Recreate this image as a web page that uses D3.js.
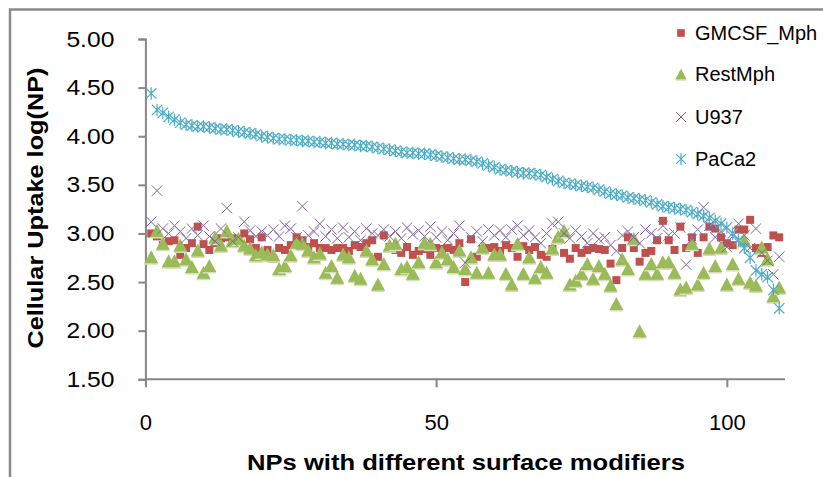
<!DOCTYPE html>
<html><head><meta charset="utf-8">
<script src="https://cdn.jsdelivr.net/npm/d3@7/dist/d3.min.js"></script>
<style>
html,body{margin:0;padding:0;background:#fff;}
svg{display:block;font-family:"Liberation Sans",Arial,sans-serif;}
</style></head>
<body><svg id="c" width="823" height="477"></svg>
<script>
const seriesNames = ["GMCSF_Mph","RestMph","U937","PaCa2"];
const yTicks = [1.5,2.0,2.5,3.0,3.5,4.0,4.5,5.0];
const xTicks = [0,50,100];

const gmcsf = [3.00,2.97,2.88,2.92,2.93,2.78,2.85,2.90,3.07,2.89,2.83,2.90,2.95,2.96,2.95,2.92,3.00,2.94,2.85,2.96,
2.83,2.74,2.85,2.83,2.88,2.96,2.93,2.86,2.90,2.85,2.85,2.83,2.85,2.85,2.82,2.88,2.86,2.90,2.93,2.76,
2.98,2.86,2.83,2.80,2.86,2.78,2.82,2.84,2.78,2.85,2.84,2.85,2.83,2.90,2.50,2.94,2.76,2.84,2.85,2.86,
2.82,2.88,2.85,2.76,2.87,2.83,2.86,2.78,2.76,2.84,2.93,2.80,2.74,2.85,2.80,2.83,2.85,2.84,2.83,2.69,
2.52,2.85,2.96,2.85,2.71,2.80,2.82,2.93,3.13,2.93,2.83,3.07,2.85,2.96,2.80,2.96,3.07,3.05,2.96,2.90,
2.88,3.04,3.04,3.14,2.85,2.80,2.86,2.98,2.96];

const restMph = [2.76,3.03,2.90,2.72,2.72,2.88,2.74,2.66,2.83,2.60,2.67,2.96,2.88,3.03,2.93,2.95,2.88,2.85,2.78,2.81,
2.79,2.78,2.64,2.67,2.78,2.91,2.90,2.83,2.76,2.80,2.60,2.67,2.55,2.79,2.76,2.57,2.54,2.83,2.74,2.48,
2.69,2.88,2.90,2.64,2.66,2.59,2.71,2.91,2.90,2.71,2.81,2.74,2.66,2.83,2.64,2.76,2.60,2.86,2.60,2.79,
2.79,2.59,2.48,2.90,2.59,2.76,2.55,2.66,2.60,2.85,2.97,3.03,2.48,2.52,2.59,2.69,2.54,2.67,2.59,2.47,
2.28,2.74,2.64,2.95,2.00,2.59,2.69,2.59,2.71,2.71,2.60,2.43,2.45,2.90,2.48,2.60,2.85,2.67,2.86,2.48,
2.69,2.54,2.93,2.50,2.47,2.86,2.74,2.36,2.45];

const u937 = [3.12,3.44,3.05,3.00,3.08,3.02,2.95,3.05,2.98,3.08,2.97,2.92,3.05,3.26,2.92,2.96,3.12,3.03,2.97,3.02,
2.98,3.04,2.97,3.08,3.05,2.96,3.28,2.98,3.02,3.10,2.97,3.04,2.95,3.06,2.96,3.02,2.93,3.05,3.00,2.98,
3.04,2.97,3.02,2.95,3.06,2.99,3.03,2.97,3.07,2.96,3.02,2.93,3.00,3.08,2.70,2.96,3.02,2.92,3.04,2.98,
3.03,2.96,3.04,3.08,2.98,3.03,2.96,2.90,3.00,3.10,3.12,3.00,2.95,3.03,2.97,2.90,3.00,2.94,2.96,2.88,
2.82,2.98,3.02,2.96,2.90,3.04,3.00,2.95,3.08,2.98,3.00,3.06,2.68,2.94,3.04,3.27,3.08,2.96,3.02,2.86,
2.97,3.10,2.98,2.85,3.05,2.80,2.72,2.58,2.76];

const paca2 = [4.44,4.27,4.24,4.20,4.17,4.14,4.12,4.11,4.10,4.10,4.09,4.08,4.07,4.07,4.06,4.05,4.04,4.03,4.02,4.00,
3.99,3.98,3.97,3.97,3.96,3.96,3.95,3.95,3.94,3.94,3.93,3.93,3.92,3.92,3.91,3.91,3.90,3.90,3.89,3.88,
3.87,3.86,3.85,3.84,3.83,3.83,3.82,3.82,3.81,3.80,3.79,3.78,3.77,3.76,3.76,3.75,3.74,3.72,3.70,3.68,
3.66,3.65,3.64,3.63,3.62,3.62,3.61,3.60,3.58,3.56,3.54,3.52,3.51,3.50,3.49,3.48,3.47,3.45,3.43,3.41,
3.40,3.39,3.37,3.36,3.35,3.34,3.32,3.30,3.28,3.27,3.26,3.25,3.24,3.22,3.20,3.18,3.16,3.13,3.10,3.06,
3.00,2.93,2.85,2.75,2.62,2.58,2.55,2.42,2.23];

const colors = ["#C0504D","#9BBB59","#8064A2","#4BACC6"];

const svg = d3.select("#c");
// outer frame
svg.append("rect").attr("x",10).attr("y",9.5).attr("width",830).attr("height",480)
  .attr("fill","none").attr("stroke","#8a8a8a").attr("stroke-width",2.5);

const x = d3.scaleLinear().domain([0,110]).range([145.4,785]);
const y = d3.scaleLinear().domain([1.5,5]).range([379.3,39]);

const axisColor = "#868686";
const gy = svg.append("g").attr("transform","translate(145.4,0)")
  .call(d3.axisLeft(y).tickValues(yTicks).tickFormat(d3.format(".2f")).tickSize(7).tickPadding(24));
const gx = svg.append("g").attr("transform","translate(0,379.3)")
  .call(d3.axisBottom(x).tickValues(xTicks).tickSize(8).tickPadding(36));
[gx,gy].forEach(g=>{
  g.select(".domain").attr("stroke",axisColor).attr("stroke-width",2);
  g.selectAll(".tick line").attr("stroke",axisColor).attr("stroke-width",2);
  g.selectAll(".tick text").attr("fill","#000").attr("font-size",22)
   .attr("font-family","'Liberation Sans',Arial,sans-serif");
});
gy.selectAll(".tick text").attr("textLength",48).attr("lengthAdjust","spacingAndGlyphs");
gx.select(".domain").attr("d","M145.4,0H785");
gx.selectAll(".tick text").attr("dy",null).attr("y",51);

// axis titles
svg.append("text").attr("transform","translate(43,208) rotate(-90)")
  .attr("text-anchor","middle").attr("font-size",22).attr("font-weight","bold")
  .attr("textLength",281).attr("lengthAdjust","spacingAndGlyphs")
  .text("Cellular Uptake log(NP)");
svg.append("text").attr("x",466).attr("y",470)
  .attr("text-anchor","middle").attr("font-size",22).attr("font-weight","bold")
  .attr("textLength",438).attr("lengthAdjust","spacingAndGlyphs")
  .text("NPs with different surface modifiers");

// marker drawers
function drawMarker(g, k, cx, cy, s){
  s = s||1;
  if(k===0){
    g.append("rect").attr("x",cx-4*s).attr("y",cy-4*s).attr("width",8*s).attr("height",8*s).attr("fill",colors[0]);
  } else if(k===1){
    const w=7*s, h=6.5*s;
    g.append("path").attr("d",`M${cx},${cy-h+1.5}L${cx+w},${cy+h+1.5}L${cx-w},${cy+h+1.5}Z`).attr("fill","#d3dfb9");
    g.append("path").attr("d",`M${cx},${cy-h}L${cx+w},${cy+h}L${cx-w},${cy+h}Z`).attr("fill",colors[1]);
  } else if(k===2){
    const r=5.2*s;
    g.append("path").attr("d",`M${cx-r},${cy-r}L${cx+r},${cy+r}M${cx-r},${cy+r}L${cx+r},${cy-r}`)
      .attr("stroke",colors[2]).attr("stroke-width",1).attr("fill","none");
  } else {
    const r=5.2*s;
    g.append("path").attr("d",`M${cx-r},${cy-r}L${cx+r},${cy+r}M${cx-r},${cy+r}L${cx+r},${cy-r}M${cx},${cy-r*1.2}L${cx},${cy+r*1.2}`)
      .attr("stroke",colors[3]).attr("stroke-width",1.2).attr("fill","none");
  }
}

const allSeries = [gmcsf, restMph, u937, paca2];
allSeries.forEach((vals,k)=>{
  const g = svg.append("g").attr("class","series-"+k);
  vals.forEach((v,i)=> drawMarker(g,k,x(i+1),y(v)));
});

// legend
const legY = [33,74,117,159];
const lg = svg.append("g");
seriesNames.forEach((n,k)=>{
  drawMarker(lg,k,681,legY[k],k===1?0.8:0.95);
  lg.append("text").attr("x",695).attr("y",legY[k]+7).attr("font-size",20).attr("fill","#000")
    .text(n);
});
</script></body></html>
